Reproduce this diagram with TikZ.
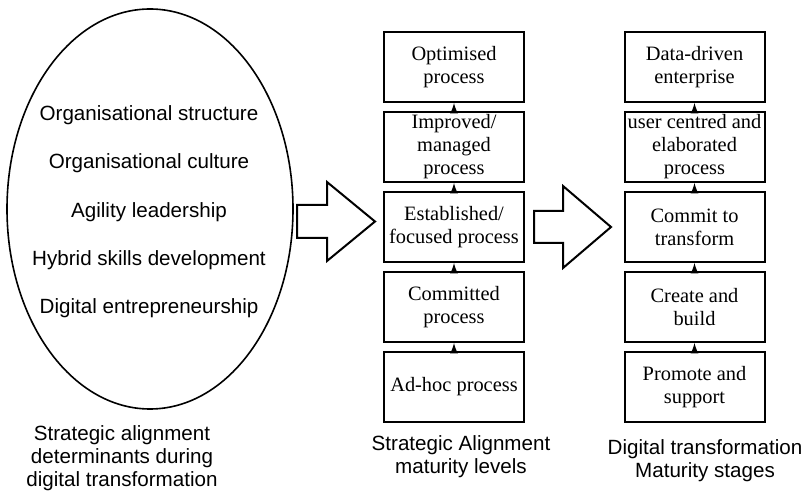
\documentclass[tikz,border=0pt]{standalone}
\usepackage{fontspec}
\setmainfont{Liberation Serif}
\newfontfamily\arial{Liberation Sans}
\usetikzlibrary{shapes.geometric}

\begin{document}
\begin{tikzpicture}[x=0.5pt,y=-0.5pt,>=latex,
  niveau/.style={draw,line width=1pt,minimum width=70pt,minimum height=35pt,inner sep=0pt,align=center,font=\fontsize{10.2}{11.5}\selectfont},
  facteur/.style={font=\arial\fontsize{10.3}{11.5}\selectfont},
  legende/.style={align=center,font=\arial\fontsize{10.3}{11.5}\selectfont},
  fleche/.style={line width=1pt,line join=miter}]
\useasboundingbox (0,0) rectangle (807,491);

% l'ellipse des determinants
\node [draw,ellipse,line width=.8pt,minimum width=143pt,minimum height=200pt] (determinants) at (150,209) {};
\node [facteur] (structure) at (149,115) {Organisational structure};
\node [facteur] (culture) at (149,163.5) {Organisational culture};
\node [facteur] (agilite) at (149,212) {Agility leadership};
\node [facteur] (competences) at (149,260) {Hybrid skills development};
\node [facteur] (entrepreneuriat) at (149,308) {Digital entrepreneurship};
\node [legende] (legDeterminants) at (122,458) {Strategic alignment\\determinants during\\digital transformation};

% les grosses fleches
\draw [fleche] (297,205)--(327,205)--(327,182)--(375,221.5)--(327,261)--(327,238)--(297,238)--cycle;
\draw [fleche] (534,211)--(563,211)--(563,186)--(611,227)--(563,268)--(563,243)--(534,243)--cycle;

% niveaux de maturite de l'alignement
\node [niveau] (optimise) at (454,67) {Optimised\\process};
\node [niveau] (ameliore) at (454,147) {Improved/\\managed\\process};
\node [niveau] (etabli) at (454,227) {Established/\\focused process};
\node [niveau] (engage) at (454,307) {Committed\\process};
\node [niveau] (adhoc) at (454,387) {Ad-hoc process};
\draw [->,line width=.8pt] (adhoc)--(engage);
\draw [->,line width=.8pt] (engage)--(etabli);
\draw [->,line width=.8pt] (etabli)--(ameliore);
\draw [->,line width=.8pt] (ameliore)--(optimise);
\node [legende] (legNiveaux) at (461,457) {Strategic Alignment\\maturity levels};

% etapes de la transformation digitale
\node [niveau] (donnees) at (694.5,67) {Data-driven\\enterprise};
\node [niveau] (utilisateur) at (694.5,147) {user centred and\\elaborated\\process};
\node [niveau] (transformer) at (694.5,227) {Commit to\\transform};
\node [niveau] (creer) at (694.5,307) {Create and\\build};
\node [niveau] (promouvoir) at (694.5,387) {Promote and\\support};
\draw [->,line width=.8pt] (promouvoir)--(creer);
\draw [->,line width=.8pt] (creer)--(transformer);
\draw [->,line width=.8pt] (transformer)--(utilisateur);
\draw [->,line width=.8pt] (utilisateur)--(donnees);
\node [legende] (legEtapes) at (705,461) {Digital transformation\\Maturity stages};

\end{tikzpicture}
\end{document}
